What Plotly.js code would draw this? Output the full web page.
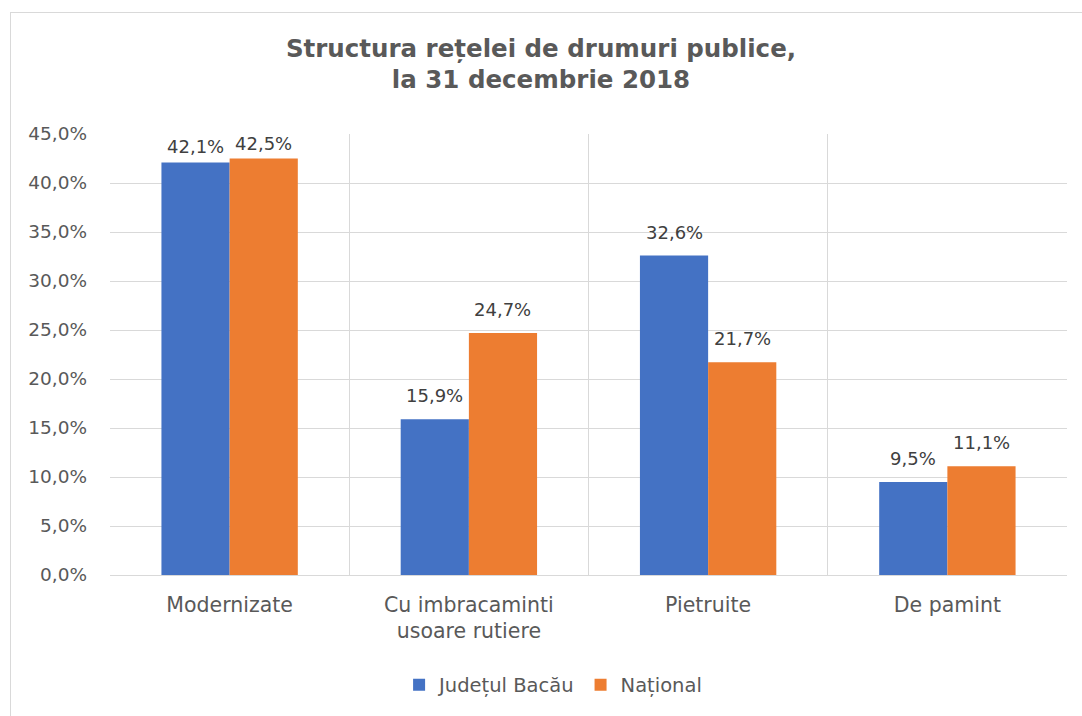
<!DOCTYPE html>
<html><head><meta charset="utf-8">
<script src="https://cdn.plot.ly/plotly-3.0.1.min.js"></script>
<style>
html,body{margin:0;padding:0;background:#fff;overflow:hidden;}
#frame{position:absolute;left:10px;top:12px;width:1200px;height:800px;border-left:1px solid #D9D9D9;border-top:1px solid #D9D9D9;pointer-events:none;z-index:5;}
#chart{position:absolute;left:0;top:0;width:1082px;height:716px;}
</style></head>
<body>
<div id="chart"></div>
<div id="frame"></div>
<script>
const categories = ["Modernizate", "Cu imbracaminti<br>usoare rutiere", "Pietruite", "De pamint"];
const bacau = [42.1, 15.9, 32.6, 9.5];
const national = [42.5, 24.7, 21.7, 11.1];
const seriesNames = ["Județul Bacău", "Național"];
const yTicks = [0, 5, 10, 15, 20, 25, 30, 35, 40, 45];
const yTickText = yTicks.map(v => v.toFixed(1).replace(".", ",") + "%");

const font = "DejaVu Sans, sans-serif";
const mk = (name, vals, color) => ({
  type: "bar", name: name, x: categories, y: vals,
  marker: {color: color},
  hoverinfo: "skip"
});
const data = [mk(seriesNames[0], bacau, "#4472C4"), mk(seriesNames[1], national, "#ED7D31")];

const fmt = v => v.toFixed(1).replace(".", ",") + "%";
const annotations = [];
[[bacau, -34], [national, 34]].forEach(([vals, dx]) => {
  vals.forEach((v, i) => {
    annotations.push({x: categories[i], y: v, xref: "x", yref: "y", text: fmt(v),
      showarrow: false, xshift: dx, yanchor: "bottom", yshift: v > 40 ? 3 : 11,
      font: {family: font, size: 18, color: "#404040"}});
  });
});

const layout = {
  width: 1082, height: 716,
  margin: {l: 110, r: 15, t: 134, b: 140},
  paper_bgcolor: "#fff", plot_bgcolor: "#fff",
  font: {family: font, color: "#595959", size: 18},
  title: {text: "<b>Structura rețelei de drumuri publice,<br>la 31 decembrie 2018</b>",
          x: 0.5, xanchor: "center", y: 0.921, yanchor: "middle",
          font: {family: font, size: 24.5, color: "#595959"}},
  bargap: 0.43, bargroupgap: 0,
  annotations: annotations,
  xaxis: {type: "category", tickson: "boundaries", showgrid: true, gridcolor: "#D9D9D9", gridwidth: 1,
          showline: true, linecolor: "#D9D9D9", ticks: "", ticklabelstandoff: 11,
          tickfont: {size: 20.5, color: "#595959"}},
  yaxis: {range: [0, 45], tickmode: "array", tickvals: yTicks, ticktext: yTickText,
          showgrid: true, gridcolor: "#D9D9D9", zeroline: false, ticks: "", ticklabelstandoff: 22,
          tickfont: {size: 18.5, color: "#595959"}},
  legend: {orientation: "h", x: 0.463, xanchor: "center", y: -0.247, yanchor: "middle",
           font: {size: 19.5, color: "#595959"}, itemwidth: 30, traceorder: "normal"},
  showlegend: true
};
Plotly.newPlot("chart", data, layout, {displayModeBar: false, staticPlot: true});
</script>
</body></html>
